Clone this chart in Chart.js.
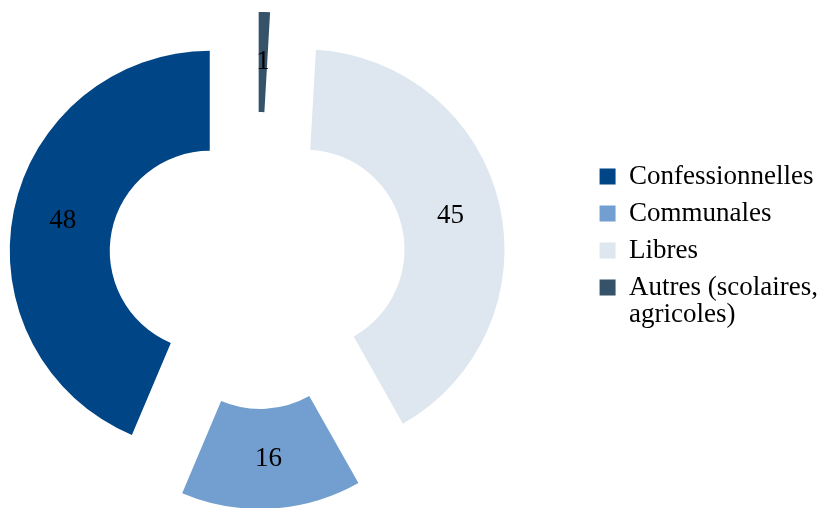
<!DOCTYPE html>
<html>
<head>
<meta charset="utf-8">
<script src="https://cdn.jsdelivr.net/npm/chart.js@4.4.1/dist/chart.umd.min.js"></script>
<style>
  html, body { margin: 0; padding: 0; background: #fff; overflow: hidden; }
  /* canvas runs a little past both sides of the window so the ring sits left of the legend */
  #wrap { position: relative; left: -75px; width: 908px; height: 508px; }
</style>
</head>
<body>
<div id="wrap"><canvas id="mycanvas"></canvas></div>
<script>
// data, in legend order
var categories = ['Confessionnelles', 'Communales', 'Libres', ['Autres (scolaires,', 'agricoles)']];
var values = [48, 16, 45, 1];
var colors = ['#004586', '#729fcf', '#dee6ef', '#355269'];

// how far each slice is pulled out of the ring
var explode = 48.5;

// the original runs counter-clockwise, chart.js clockwise: draw reversed, legend reversed back
var drawLabels = categories.slice().reverse();
var drawValues = values.slice().reverse();
var drawColors = colors.slice().reverse();

var explodePlugin = {
  id: 'explode',
  afterDatasetsUpdate: function(chart) {
    var area = chart.chartArea;
    var cx = (area.left + area.right) / 2;
    var cy = (area.top + area.bottom) / 2;
    chart.getDatasetMeta(0).data.forEach(function(arc) {
      var mid = (arc.startAngle + arc.endAngle) / 2;
      arc.x = cx + Math.cos(mid) * explode;
      arc.y = cy + Math.sin(mid) * explode;
    });
  }
};

var valueLabels = {
  id: 'valueLabels',
  afterDatasetsDraw: function(chart) {
    var ctx = chart.ctx;
    var meta = chart.getDatasetMeta(0);
    ctx.save();
    ctx.font = '27px "Liberation Serif"';
    ctx.fillStyle = '#000';
    ctx.textAlign = 'center';
    ctx.textBaseline = 'middle';
    meta.data.forEach(function(arc, i) {
      var p = arc.getCenterPoint();
      ctx.fillText(String(drawValues[i]), p.x, p.y);
    });
    ctx.restore();
  }
};

var ctx = document.getElementById('mycanvas');
new Chart(ctx, {
  type: 'doughnut',
  data: {
    labels: drawLabels,
    datasets: [{
      data: drawValues,
      backgroundColor: drawColors,
      borderWidth: 0
    }]
  },
  options: {
    responsive: true,
    maintainAspectRatio: false,
    animation: false,
    events: [],
    radius: 200,
    cutout: '50%',
    layout: { padding: { left: 0, right: 5, top: 153, bottom: 140 } },
    plugins: {
      tooltip: { enabled: false },
      legend: {
        position: 'right',
        align: 'start',
        reverse: true,
        labels: {
          boxWidth: 16,
          boxHeight: 16,
          padding: 10,
          color: '#000',
          font: { family: '"Liberation Serif"', size: 27, lineHeight: 1.03 }
        }
      }
    }
  },
  plugins: [explodePlugin, valueLabels]
});
</script>
</body>
</html>
